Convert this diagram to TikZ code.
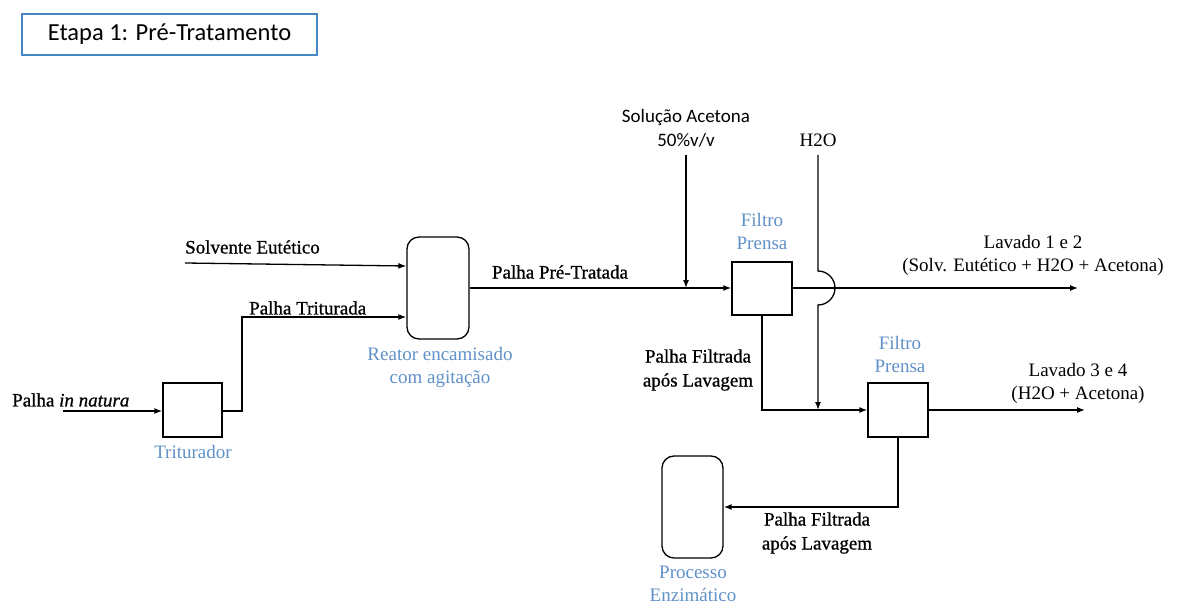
\documentclass[tikz,border=0pt]{standalone}
\usepackage{fontspec}
\setmainfont{Liberation Serif}
\newfontfamily\calib{Carlito}
\newfontfamily\darkserif[FakeBold=0.8]{Liberation Serif}
\usetikzlibrary{arrows.meta}
\definecolor{unitblue}{RGB}{96,145,200}
\definecolor{frameblue}{RGB}{70,135,195}
\begin{document}
\begin{tikzpicture}[x=1pt,y=-1pt,
  txt/.style={font=\fontsize{19}{23}\selectfont, inner sep=0pt, align=center},
  darktxt/.style={font=\darkserif\fontsize{19}{24}\selectfont, inner sep=0pt, align=center},
  sanstxt/.style={font=\calib\fontsize{19}{24}\selectfont, inner sep=0pt, align=center},
  unitlbl/.style={txt, text=unitblue},
  unit/.style={draw, line width=1.3pt, inner sep=0pt},
  vessel/.style={unit, rounded corners=12pt},
  flow/.style={line width=1.3pt, -{Latex[length=8pt,width=6pt]}}]
\useasboundingbox (0,0) rectangle (1181,604);
\fill[white] (0,0) rectangle (1181,604);

% stage heading
\node[draw=frameblue, line width=1.1pt, minimum width=295pt, minimum height=41pt,
      font=\calib\fontsize{24.5}{28}\selectfont, inner sep=0pt] (stage) at (169.5,34.5) {Etapa 1: Pré-Tratamento};

% process units
\node[unit, minimum width=59pt, minimum height=54pt] (trit) at (192.5,410) {};
\node[vessel, minimum width=62pt, minimum height=102pt] (reac) at (438,288) {};
\node[unit, minimum width=60pt, minimum height=53pt] (f1) at (762,288.5) {};
\node[unit, minimum width=60pt, minimum height=54pt] (f2) at (898,410) {};
\node[vessel, minimum width=61pt, minimum height=102pt] (proc) at (692.5,507) {};

% unit names
\node[unitlbl] (tritlbl) at (193,452) {Triturador};
\node[unitlbl] (reaclbl) at (440,367) {Reator encamisado\\com agitação};
\node[unitlbl] (f1lbl) at (762,232) {Filtro\\Prensa};
\node[unitlbl] (f2lbl) at (900,355) {Filtro\\Prensa};
\node[unitlbl] (proclbl) at (693,584) {Processo\\Enzimático};

% free ends of the streams
\coordinate (feed) at (63,411);
\coordinate (solv) at (185,263);
\coordinate (acet) at (686,155);
\coordinate (water) at (818,155);
\coordinate (wash12) at (1078,288);
\coordinate (wash34) at (1085,410);

% streams
\draw[flow] (feed) -- (trit.west |- feed);
\draw[flow] (trit.east |- feed) -| (242,317) -- (reac.west |- 0,317);
\draw[flow] (solv) -- (reac.west |- 0,266);
\draw[flow] (reac.east) -- (f1.west |- reac.east);
\draw[flow] (acet) -- (acet |- reac.east);
\draw[flow] (water) -- (818,271) arc(-90:90:17) -- (818,410);
\draw[flow] (f1.east |- wash12) -- (wash12);
\draw[flow] (f1.south) |- (f2.west);
\draw[flow] (f2.east) -- (wash34);
\draw[flow] (f2.south) |- (proc.east);

% stream labels
\node[darktxt, anchor=west] (feedlbl) at (12,400) {Palha \textit{in natura}};
\node[darktxt, anchor=west] (solvlbl) at (185,247) {Solvente Eutético};
\node[darktxt, anchor=west] (trilbl) at (249,308) {Palha Triturada};
\node[darktxt] (pretlbl) at (560,272) {Palha Pré-Tratada};
\node[sanstxt] (acetlbl) at (686,128) {Solução Acetona\\50\%v/v};
\node[txt] (waterlbl) at (818,140) {H2O};
\node[txt] (w12lbl) at (1033,255) {Lavado 1 e 2\\(Solv. Eutético + H2O + Acetona)};
\node[darktxt] (filt1lbl) at (698,370) {Palha Filtrada\\após Lavagem};
\node[txt] (w34lbl) at (1078,383) {Lavado 3 e 4\\(H2O + Acetona)};
\node[darktxt] (filt2lbl) at (817,533) {Palha Filtrada\\após Lavagem};
\end{tikzpicture}
\end{document}
